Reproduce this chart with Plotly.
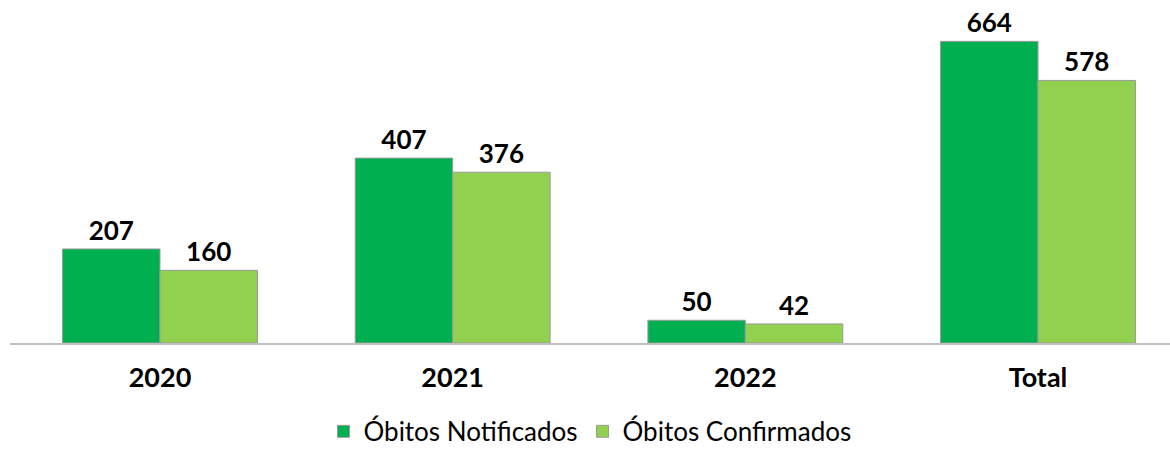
import plotly.graph_objects as go

categories = ["2020", "2021", "2022", "Total"]
notificados = [207, 407, 50, 664]
confirmados = [160, 376, 42, 578]
series_names = ["Óbitos Notificados", "Óbitos Confirmados"]

FONT = "Lato"

fig = go.Figure()
fig.add_trace(go.Bar(
    x=categories, y=notificados, name=series_names[0],
    marker=dict(color="#00B050", line=dict(color="#9A9A9A", width=1)),
    text=[str(v) for v in notificados], textposition="outside",
    textfont=dict(family=FONT, size=26, color="#000000", weight="bold"),
    cliponaxis=False,
))
fig.add_trace(go.Bar(
    x=categories, y=confirmados, name=series_names[1],
    marker=dict(color="#92D050", line=dict(color="#9A9A9A", width=1)),
    text=[str(v) for v in confirmados], textposition="outside",
    textfont=dict(family=FONT, size=26, color="#000000", weight="bold"),
    cliponaxis=False,
))

fig.update_layout(
    width=1170, height=456,
    margin=dict(l=10, r=0, t=25, b=113, autoexpand=False),
    paper_bgcolor="white", plot_bgcolor="white",
    barmode="group", bargap=0.334, bargroupgap=0,
    font=dict(family=FONT, color="#000000"),
    showlegend=True,
    legend=dict(orientation="h", x=0.5, xanchor="center", y=-0.352, yanchor="bottom",
                font=dict(family=FONT, size=26, color="#000000"),
                itemwidth=30, traceorder="normal", tracegroupgap=0),
    xaxis=dict(type="category", range=[-0.5125, 3.451], showline=True,
               linecolor="#BFBFBF", linewidth=2, ticks="", showgrid=False,
               automargin=False,
               tickfont=dict(family=FONT, size=27, color="#000000", weight="bold"),
               ticklabelstandoff=10),
    yaxis=dict(range=[0, 700], visible=False, showgrid=False, zeroline=False,
               automargin=False),
)

fig.write_html("out.html")
